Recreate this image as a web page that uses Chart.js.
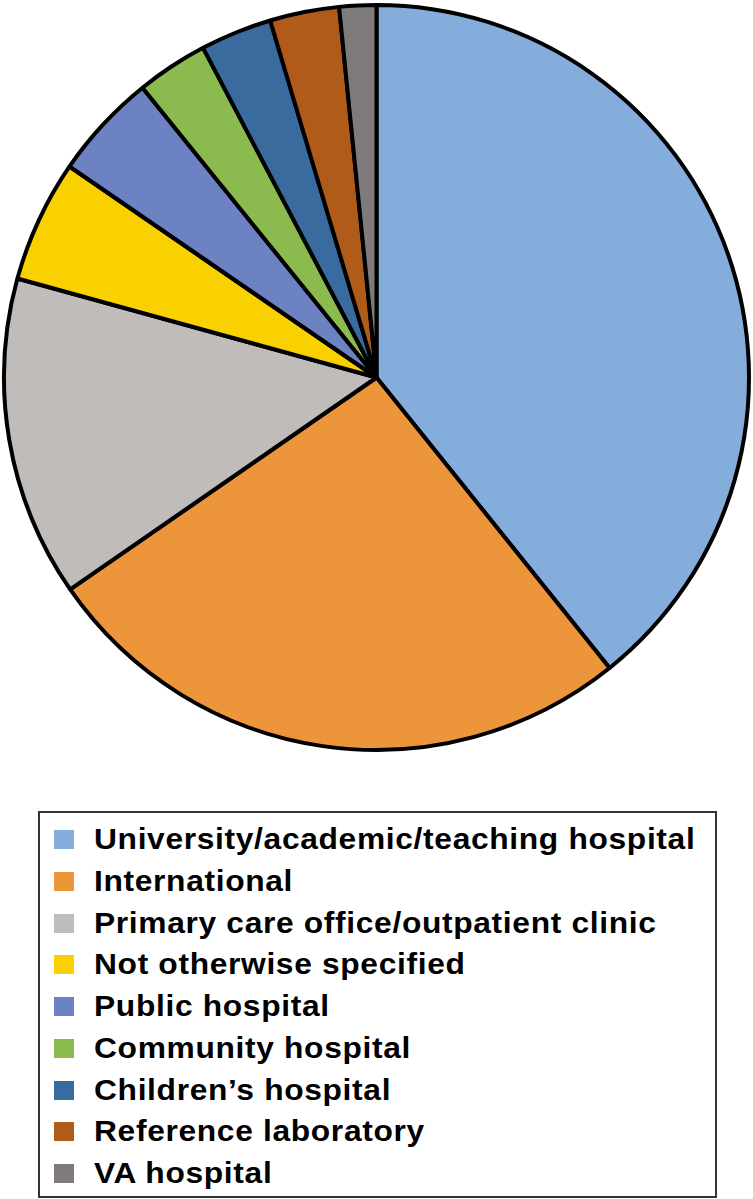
<!DOCTYPE html>
<html>
<head>
<meta charset="utf-8">
<script src="https://cdn.jsdelivr.net/npm/chart.js@4/dist/chart.umd.min.js"></script>
<style>
  html, body { margin: 0; padding: 0; background: #fff; }
  body { width: 753px; height: 1199px; position: relative; overflow: hidden; }
  #wrap { position: absolute; left: 0; top: 0; width: 753px; height: 755px; }
  #legend {
    position: absolute; left: 38px; top: 811px; width: 675px; height: 383px;
    border: 2px solid #333; box-sizing: content-box;
    font-family: "Liberation Sans", Arial, sans-serif; font-weight: bold;
    font-size: 29px; color: #000;
  }
  #legend ul { list-style: none; margin: 0; padding: 0; }
  #legend li { position: absolute; left: 0; height: 30px; display: block; white-space: nowrap; }
  #legend .sw { position: absolute; left: 14px; top: 6px; width: 20px; height: 19px; }
  #legend .tx { position: absolute; left: 54px; top: 0; line-height: 30px; letter-spacing: 0.6px;
                transform: scaleX(1.095); transform-origin: 0 50%; }
</style>
</head>
<body>
<div id="wrap"><canvas id="c" width="753" height="755"></canvas></div>
<div id="legend"></div>
<script>
const categories = [
  "University/academic/teaching hospital",
  "International",
  "Primary care office/outpatient clinic",
  "Not otherwise specified",
  "Public hospital",
  "Community hospital",
  "Children\u2019s hospital",
  "Reference laboratory",
  "VA hospital"
];
const shares = [39.2, 26.1, 13.9, 5.3, 4.6, 3.1, 3.1, 3.0, 1.6];
const colors = ["#84ADDB", "#ED953A", "#C0BCBA", "#F9D100", "#6C82C2", "#8BBB4E", "#3A6B9F", "#B05B19", "#7F7B7B"];

const chart = new Chart(document.getElementById('c'), {
  type: 'pie',
  data: {
    labels: categories,
    datasets: [{
      data: shares,
      backgroundColor: colors,
      borderColor: '#000',
      borderWidth: 4,
      hoverOffset: 0
    }]
  },
  options: {
    responsive: false,
    animation: false,
    layout: { padding: 2 },
    plugins: { legend: { display: false }, tooltip: { enabled: false } }
  }
});

// HTML legend built from the chart's own legend items
const items = chart.options.plugins.legend.labels.generateLabels(chart);
const legend = document.getElementById('legend');
const ul = document.createElement('ul');
items.forEach((it, i) => {
  const li = document.createElement('li');
  li.style.top = (11 + i * 41.75) + 'px';
  const sw = document.createElement('span');
  sw.className = 'sw';
  sw.style.background = it.fillStyle;
  const tx = document.createElement('span');
  tx.className = 'tx';
  tx.textContent = it.text;
  li.appendChild(sw); li.appendChild(tx);
  ul.appendChild(li);
});
legend.appendChild(ul);
</script>
</body>
</html>
